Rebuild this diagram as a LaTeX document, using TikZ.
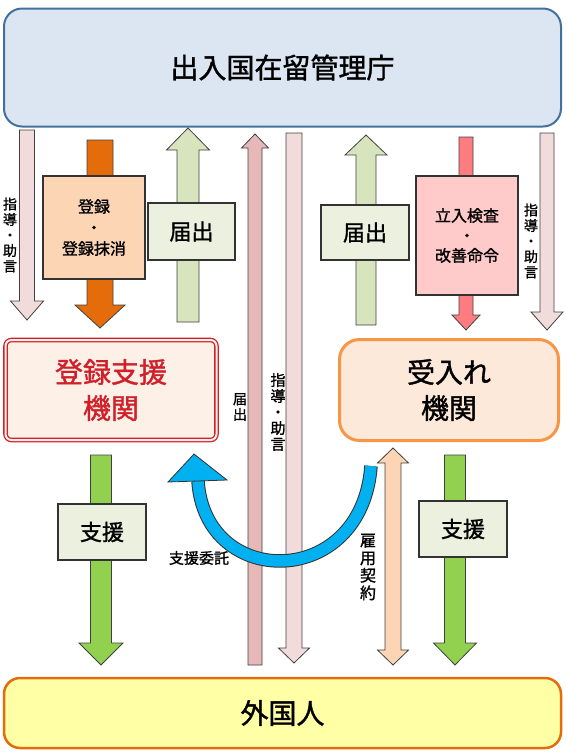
\documentclass[tikz,border=0pt]{standalone}
\usepackage{fontspec}
\setmainfont{Noto Sans CJK JP}[FakeBold=1.3]
\usepackage{xcolor}
\usepackage{tikz}
\usetikzlibrary{positioning,calc}

\definecolor{kanriFill}{HTML}{DCE6F2}
\definecolor{kanriLine}{HTML}{41719C}
\definecolor{shidoPink}{HTML}{F2DCDB}
\definecolor{todokePink}{HTML}{E6B9B8}
\definecolor{torokuOrange}{HTML}{E46C0A}
\definecolor{peach}{HTML}{FCD5B5}
\definecolor{paleGreen}{HTML}{D7E4BD}
\definecolor{boxGreen}{HTML}{EBF1DE}
\definecolor{shienGreen}{HTML}{92D050}
\definecolor{kensaRed}{HTML}{FF7C80}
\definecolor{kensaFill}{HTML}{FFCACA}
\definecolor{torokuRed}{HTML}{D0202A}
\definecolor{torokuFill}{HTML}{FDF0E7}
\definecolor{ukeLine}{HTML}{F79646}
\definecolor{ukeFill}{HTML}{FDE9D9}
\definecolor{itakuBlue}{HTML}{00B0F0}
\definecolor{gaiFill}{HTML}{FFFFA6}
\definecolor{gaiLine}{HTML}{E46C0A}

\tikzset{
  shaftw/.store in=\shaftw, headw/.store in=\headw, headl/.store in=\headl,
  hsign/.store in=\hsign,
  shaftw=14, headw=30, headl=16, hsign=-1,
  down/.style={hsign=-1}, up/.style={hsign=1},
  barrow/.style={draw=black!75, line width=0.8pt, to path={
    ($(\tikztostart)+(-0.5*\shaftw,0)$) -- ($(\tikztotarget)+(-0.5*\shaftw,\hsign*\headl)$)
    -- ($(\tikztotarget)+(-0.5*\headw,\hsign*\headl)$) -- (\tikztotarget)
    -- ($(\tikztotarget)+(0.5*\headw,\hsign*\headl)$) -- ($(\tikztotarget)+(0.5*\shaftw,\hsign*\headl)$)
    -- ($(\tikztostart)+(0.5*\shaftw,0)$) -- cycle}},
  dbarrow/.style={draw=black!75, line width=0.8pt, to path={
    (\tikztostart) -- ($(\tikztostart)+(-0.5*\headw,\headl)$) -- ($(\tikztostart)+(-0.5*\shaftw,\headl)$)
    -- ($(\tikztotarget)+(-0.5*\shaftw,-\headl)$) -- ($(\tikztotarget)+(-0.5*\headw,-\headl)$) -- (\tikztotarget)
    -- ($(\tikztotarget)+(0.5*\headw,-\headl)$) -- ($(\tikztotarget)+(0.5*\shaftw,-\headl)$)
    -- ($(\tikztostart)+(0.5*\shaftw,\headl)$) -- ($(\tikztostart)+(0.5*\headw,\headl)$) -- cycle}},
}

\begin{document}
\begin{tikzpicture}[x=1pt, y=-1pt,
  mainbox/.style={align=center, inner sep=0pt, font=\fontsize{28}{36}\selectfont},
  lbl/.style={draw=black!80, line width=1.2pt, inner sep=0pt, align=center},
  vtext/.style={align=center, inner sep=0pt, font=\fontsize{14}{15.5}\selectfont}]
\useasboundingbox (0,0) rectangle (566,756);

% main boxes
\node[mainbox, fill=kanriFill, draw=kanriLine, line width=2pt, rounded corners=18pt,
  minimum width=557, minimum height=118] (kanri) at (282.5,67.5) {出入国在留管理庁};
\node[mainbox, fill=torokuFill, draw=torokuRed, double=torokuFill, double distance=2pt,
  line width=1.3pt, rounded corners=6pt, text=torokuRed,
  minimum width=211, minimum height=100] (toroku) at (111,390) {登録支援\\機関};
\node[mainbox, fill=ukeFill, draw=ukeLine, line width=3pt, rounded corners=20pt,
  minimum width=219, minimum height=101] (ukeire) at (449,390) {受入れ\\機関};
\node[mainbox, fill=gaiFill, draw=gaiLine, line width=2.5pt, rounded corners=16pt,
  minimum width=557, minimum height=70] (gaikoku) at (282.5,713) {外国人};

% arrow ends
\coordinate (shidoL-a) at (27,130);   \coordinate (shidoL-b) at (27,320);
\coordinate (tourokuA-a) at (100,140); \coordinate (tourokuA-b) at (100,328);
\coordinate (todokeL-a) at (188,322);  \coordinate (todokeL-b) at (188,128);
\coordinate (todokeM-a) at (255,665);  \coordinate (todokeM-b) at (255,134);
\coordinate (shidoM-a) at (294,133);   \coordinate (shidoM-b) at (294,663);
\coordinate (todokeR-a) at (366,325);  \coordinate (todokeR-b) at (366,135);
\coordinate (kensaA-a) at (466,137);   \coordinate (kensaA-b) at (466,330);
\coordinate (shidoR-a) at (547,133);   \coordinate (shidoR-b) at (547,330);
\coordinate (shienL-a) at (101,455);   \coordinate (shienL-b) at (101,665);
\coordinate (koyo-a) at (393,448);     \coordinate (koyo-b) at (393,665);
\coordinate (shienR-a) at (455,455);   \coordinate (shienR-b) at (455,665);
\coordinate (itaku-a) at (371,466);    \coordinate (itaku-b) at (198,481);

% block arrows
\draw[barrow, down, fill=shidoPink, shaftw=15, headw=33, headl=19] (shidoL-a) to (shidoL-b);
\draw[barrow, down, fill=torokuOrange, shaftw=26, headw=50, headl=23] (tourokuA-a) to (tourokuA-b);
\draw[barrow, up, fill=paleGreen, shaftw=22, headw=43, headl=22] (todokeL-a) to (todokeL-b);
\draw[barrow, up, fill=todokePink, shaftw=14, headw=27, headl=14] (todokeM-a) to (todokeM-b);
\draw[barrow, down, fill=shidoPink, shaftw=16, headw=31, headl=15] (shidoM-a) to (shidoM-b);
\draw[barrow, up, fill=paleGreen, shaftw=20, headw=42, headl=20] (todokeR-a) to (todokeR-b);
\draw[barrow, down, fill=kensaRed, shaftw=14, headw=28, headl=15] (kensaA-a) to (kensaA-b);
\draw[barrow, down, fill=shidoPink, shaftw=14, headw=32, headl=18] (shidoR-a) to (shidoR-b);
\draw[barrow, down, fill=shienGreen, shaftw=21, headw=44, headl=22] (shienL-a) to (shienL-b);
\draw[dbarrow, fill=peach, shaftw=16, headw=31, headl=15] (koyo-a) to (koyo-b);
\draw[barrow, down, fill=shienGreen, shaftw=21, headw=43, headl=22] (shienR-a) to (shienR-b);

% curved arrow
\draw[line width=13.5pt, black!80] (itaku-a) .. controls (362,590) and (205,590) .. (itaku-b);
\draw[line width=11.5pt, itakuBlue] (itaku-a) .. controls (362,590) and (205,590) .. (itaku-b);
\draw[fill=itakuBlue, draw=black!80, line width=0.8pt] (194,454) -- (168,482) -- (227,480) -- cycle;

% label boxes
\node[lbl, fill=peach, minimum width=102, minimum height=103,
  font=\fontsize{16}{21}\selectfont] (tourokuL) at (94,227.5) {登録\\・\\登録抹消};
\node[lbl, fill=boxGreen, minimum width=87, minimum height=57,
  font=\fontsize{22}{26}\selectfont] (todokeLL) at (191.5,231.5) {届出};
\node[lbl, fill=boxGreen, minimum width=88, minimum height=55,
  font=\fontsize{22}{26}\selectfont] (todokeRL) at (365,232.5) {届出};
\node[lbl, fill=kensaFill, minimum width=102, minimum height=119,
  font=\fontsize{16}{20}\selectfont] (kensaL) at (467,235.5) {立入検査\\・\\改善命令};
\node[lbl, fill=boxGreen, minimum width=88, minimum height=56,
  font=\fontsize{22}{26}\selectfont] (shienLL) at (102,532) {支援};
\node[lbl, fill=boxGreen, minimum width=88, minimum height=56,
  font=\fontsize{22}{26}\selectfont] (shienRL) at (463,529) {支援};

% vertical texts
\node[vtext] (shidoLT) at (10,235) {指\\導\\・\\助\\言};
\node[vtext] (shidoRT) at (531,241) {指\\導\\・\\助\\言};
\node[vtext] (todokeMT) at (240,407) {届\\出};
\node[vtext, font=\fontsize{15}{16}\selectfont] (shidoMT) at (278,412) {指\\導\\・\\助\\言};
\node[vtext, font=\fontsize{16}{17.5}\selectfont] (koyoT) at (368,567) {雇\\用\\契\\約};
\node[inner sep=0pt, font=\fontsize{15}{18}\selectfont] (itakuT) at (199,558) {支援委託};
\end{tikzpicture}
\end{document}
